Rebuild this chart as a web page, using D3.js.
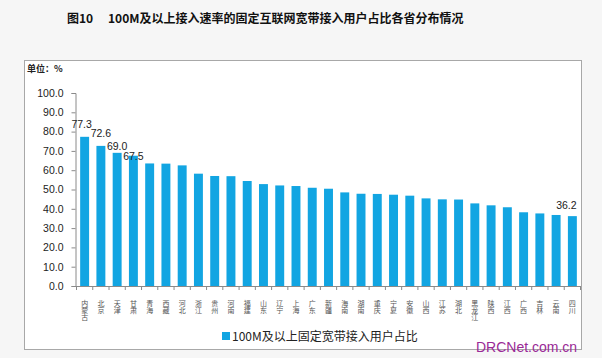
<!DOCTYPE html>
<html><head><meta charset="utf-8">
<script src="https://cdn.jsdelivr.net/npm/d3@7"></script>
<style>
html,body{margin:0;padding:0;background:#f6f6f6;}
svg{display:block;}
</style></head>
<body>
<svg id="c" width="602" height="358"></svg>
<script>
const categories = ["内蒙古","北京","天津","甘肃","青海","西藏","河北","浙江","贵州","河南","福建","山东","辽宁","上海","广东","新疆","海南","湖南","重庆","宁夏","安徽","山西","江苏","湖北","黑龙江","陕西","江西","广西","吉林","云南","四川"];
const values = [77.3,72.6,69.0,67.5,63.5,63.4,62.5,58.2,57.0,56.9,54.4,52.8,52.1,51.8,50.9,50.4,48.5,47.8,47.7,47.3,46.8,45.4,44.9,44.8,42.8,41.8,40.8,38.2,37.6,36.8,36.2];
const labeledIndex = [0,1,2,3,30];
const yTicks = [0,10,20,30,40,50,60,70,80,90,100];
const seriesName = "100M及以上固定宽带接入用户占比";
const titleLeft = "图10";
const titleRight = "100M及以上接入速率的固定互联网宽带接入用户占比各省分布情况";
const unitText = "单位：%";
const watermark = "DRCNet.com.cn";

const svg = d3.select("#c");
const barColor = "#12a5e2";
const sans = "'Liberation Sans','DejaVu Sans',sans-serif";
const cjk = "'Noto Sans CJK SC','Noto Sans',sans-serif";

// title
svg.append("text").attr("x",67).attr("y",23).attr("font-family",cjk).attr("font-weight","bold")
  .attr("font-size",12).attr("fill","#111").text(titleLeft);
svg.append("text").attr("x",108).attr("y",23).attr("font-family",cjk).attr("font-weight","bold")
  .attr("font-size",12).attr("fill","#111").text(titleRight);

// frame
svg.append("rect").attr("x",24.5).attr("y",60.5).attr("width",557).attr("height",289)
  .attr("fill","#fff").attr("stroke","#a8a8a8").attr("stroke-width",1);

svg.append("text").attr("x",27).attr("y",72).attr("font-family",cjk).attr("font-weight","bold")
  .attr("font-size",9).attr("fill","#222").text(unitText);

const x = d3.scaleBand().domain(categories).range([76.5,580.5]).paddingInner(0.45).paddingOuter(0.225);
const y = d3.scaleLinear().domain([0,100]).range([286,93]);

// y axis
const yAxis = svg.append("g").attr("transform","translate(75.5,0)")
  .call(d3.axisLeft(y).tickValues(yTicks).tickFormat(d3.format(".1f")).tickSize(4).tickPadding(8));
yAxis.select(".domain").attr("stroke","#8a8a8a");
yAxis.selectAll(".tick line").attr("stroke","#8a8a8a");
yAxis.selectAll(".tick text").attr("font-family",sans).attr("font-size",10.5).attr("fill","#222");

// bars
svg.append("g").selectAll("rect").data(values).join("rect")
  .attr("x",(d,i)=>x(categories[i])).attr("width",x.bandwidth())
  .attr("y",d=>y(d)).attr("height",d=>y(0)-y(d)).attr("fill",barColor);

// x axis
const step = x.step();
const x0 = 76.5;
const xg = svg.append("g");
xg.append("line").attr("x1",75.5).attr("x2",581).attr("y1",286.5).attr("y2",286.5).attr("stroke","#8a8a8a");
xg.selectAll("line.t").data(d3.range(categories.length+1)).join("line").attr("class","t")
  .attr("x1",i=>x0+i*step).attr("x2",i=>x0+i*step).attr("y1",286.5).attr("y2",290)
  .attr("stroke","#8a8a8a");
xg.selectAll("text.c").data(categories).join("text").attr("class","c")
  .attr("x",c=>x(c)+x.bandwidth()/2).attr("y",299.5)
  .style("writing-mode","vertical-rl").style("text-orientation","upright")
  .attr("font-family",cjk).attr("font-size",7).attr("fill","#555")
  .text(c=>c);

// data labels
const dyMap = {0:-9,1:-9,2:-3,3:4,30:-7};
const dxMap = {0:-3,1:0,2:0,3:0,30:-6};
svg.append("g").selectAll("text").data(labeledIndex).join("text")
  .attr("x",i=>x(categories[i])+x.bandwidth()/2+dxMap[i])
  .attr("y",i=>y(values[i])+dyMap[i])
  .attr("text-anchor","middle").attr("font-family",sans).attr("font-size",10.5).attr("fill","#222")
  .text(i=>values[i].toFixed(1));

// legend
svg.append("rect").attr("x",222).attr("y",332).attr("width",8).attr("height",8).attr("fill",barColor);
svg.append("text").attr("x",232).attr("y",340.5).attr("font-family",cjk).attr("font-size",12)
  .attr("fill","#222").text(seriesName);

// watermark
svg.append("text").attr("x",476).attr("y",352).attr("font-family",sans).attr("font-size",14)
  .attr("fill","#9a2a96").text(watermark);
</script>
</body></html>
